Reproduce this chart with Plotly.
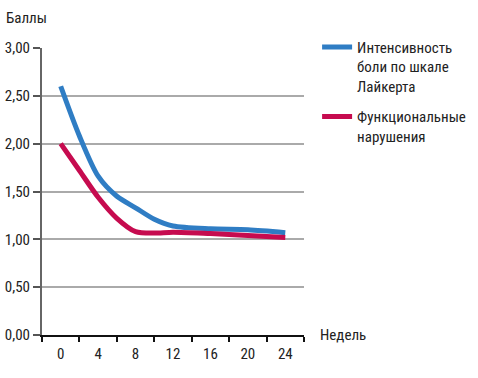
import plotly.graph_objects as go

weeks = [0, 2, 4, 6, 8, 10, 12, 16, 20, 24]
pain = [2.60, 2.08, 1.66, 1.45, 1.33, 1.21, 1.14, 1.11, 1.10, 1.07]
function = [2.00, 1.72, 1.44, 1.22, 1.08, 1.065, 1.075, 1.06, 1.04, 1.02]
names = ["Интенсивность<br>боли по шкале<br>Лайкерта", "Функциональные<br>нарушения"]
colors = ["#2f7dc4", "#c60b4f"]
x_ticks = [0, 4, 8, 12, 16, 20, 24]
y_ticks = [0, 0.5, 1.0, 1.5, 2.0, 2.5, 3.0]

FONT = "Liberation Sans Narrow, Roboto Condensed, Liberation Sans, Arial"

fig = go.Figure()
for i, (y, n, c) in enumerate(zip([pain, function], names, colors)):
    fig.add_trace(go.Scatter(x=weeks, y=y, name=n, mode="lines", legendgroup=f"g{i}",
                             line=dict(color=c, width=5, shape="spline", smoothing=0.8)))

fig.update_layout(
    width=478, height=378,
    margin=dict(l=42, r=174, t=48, b=43, autoexpand=False),
    plot_bgcolor="white", paper_bgcolor="white",
    separators=", ",
    font=dict(family=FONT, size=15, color="#222"),
    showlegend=True,
    legend=dict(x=1.05, y=1.06, xanchor="left", yanchor="top", valign="top",
                font=dict(size=15, family=FONT, color="#222"),
                itemwidth=30, tracegroupgap=8, bgcolor="rgba(0,0,0,0)"),
    xaxis=dict(range=[-2, 26], tickvals=x_ticks, ticktext=[str(v) for v in x_ticks],
               ticks="", showgrid=False, zeroline=False, automargin=False,
               showline=True, linecolor="#111", linewidth=2,
               ticklabelstandoff=4,
               minor=dict(ticks="outside", tick0=-2, dtick=4, ticklen=5, tickcolor="#111", tickwidth=1.5, showgrid=False),
               tickfont=dict(size=15)),
    yaxis=dict(range=[0, 3.0], tickvals=y_ticks, tickformat=".2f", automargin=False,
               ticks="outside", ticklen=7, tickcolor="#555", tickwidth=1.5,
               showgrid=True, gridcolor="#aaaaaa", gridwidth=1.5,
               zeroline=False, showline=True, linecolor="#666", linewidth=2,
               tickfont=dict(size=15)),
    annotations=[
        dict(text="Баллы", x=4, y=18, xref="paper", yref="paper", showarrow=False,
             xanchor="left", yanchor="middle", font=dict(size=15)),
        dict(text="Недель", x=318, y=335, xref="paper", yref="paper", showarrow=False,
             xanchor="left", yanchor="middle", font=dict(size=15)),
    ],
)
W, H = 478 - 42 - 174, 378 - 48 - 43
for a in fig.layout.annotations:
    a.x = (a.x - 42) / W
    a.y = (378 - 43 - a.y) / H

fig.write_html("out.html", config={"displayModeBar": False},
               post_script="document.body.style.margin='0';")
